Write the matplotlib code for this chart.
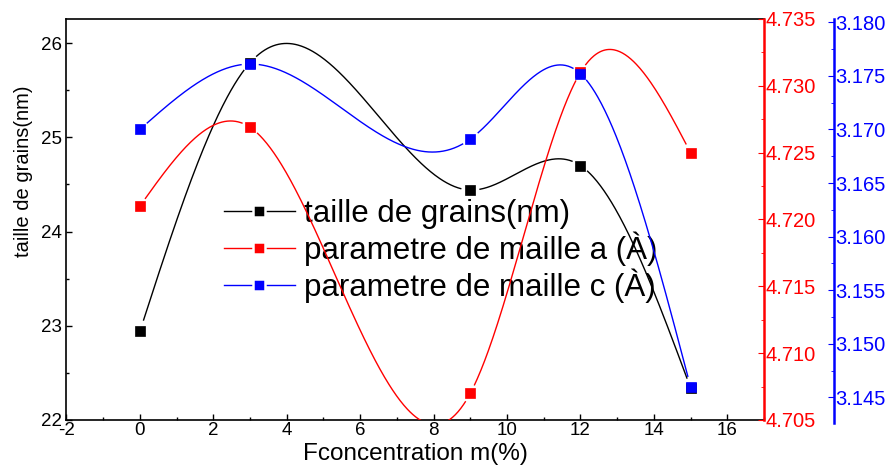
import numpy as np
import matplotlib.pyplot as plt
from matplotlib.lines import Line2D
from matplotlib.ticker import MultipleLocator

plt.rcParams['font.family'] = ['Liberation Sans', 'DejaVu Sans']
plt.rcParams['axes.unicode_minus'] = False

# F concentration (m%)
conc = [0, 3, 9, 12, 15]
# grain size (nm)
grain = [22.94, 25.79, 24.44, 24.70, 22.34]
# lattice parameter a (A)
param_a = [4.7210, 4.7269, 4.7070, 4.7310, 4.7250]
# lattice parameter c (A)
param_c = [3.1700, 3.1761, 3.1691, 3.1752, 3.1460]


def natural_spline(x, y, xs):
    x = np.asarray(x, float)
    y = np.asarray(y, float)
    n = len(x)
    h = np.diff(x)
    A = np.zeros((n, n))
    b = np.zeros(n)
    A[0, 0] = A[-1, -1] = 1
    for i in range(1, n - 1):
        A[i, i - 1] = h[i - 1]
        A[i, i] = 2 * (h[i - 1] + h[i])
        A[i, i + 1] = h[i]
        b[i] = 6 * ((y[i + 1] - y[i]) / h[i] - (y[i] - y[i - 1]) / h[i - 1])
    M = np.linalg.solve(A, b)
    k = np.clip(np.searchsorted(x, xs) - 1, 0, n - 2)
    t0 = x[k + 1] - xs
    t1 = xs - x[k]
    hk = h[k]
    return (M[k] * t0 ** 3 / (6 * hk) + M[k + 1] * t1 ** 3 / (6 * hk)
            + (y[k] / hk - M[k] * hk / 6) * t0
            + (y[k + 1] / hk - M[k + 1] * hk / 6) * t1)


def draw_series(ax, x, y, color, gap=9):
    xs = np.linspace(min(x), max(x), 600)
    ys = natural_spline(x, y, xs)
    # leave a small gap in the curve around each symbol
    pts = ax.transData.transform(np.column_stack([xs, ys]))
    mk = ax.transData.transform(np.column_stack([x, y]))
    near = np.zeros(len(xs), bool)
    for p in mk:
        near |= np.hypot(pts[:, 0] - p[0], pts[:, 1] - p[1]) < gap
    ys = np.where(near, np.nan, ys)
    ax.plot(xs, ys, color=color, lw=1.0)
    ax.plot(x, y, 's', color=color, ms=7.5, mec=color, mew=0.5, zorder=5)


fig = plt.figure(figsize=(8.9, 4.7), dpi=100)
ax = fig.add_axes([0.0747, 0.1064, 0.7837, 0.8532])
ax2 = ax.twinx()
ax3 = ax.twinx()

ax.set_xlim(-2, 17)
ax.set_ylim(22, 26.255)
ax2.set_ylim(4.705, 4.735)
ax3.set_ylim(3.1429, 3.1803)

draw_series(ax, conc, grain, 'black')
draw_series(ax2, conc, param_a, 'red')
draw_series(ax3, conc, param_c, 'blue')

# left / bottom axes
for s in ax.spines.values():
    s.set_linewidth(1.2)
ax.spines['right'].set_visible(False)
ax.xaxis.set_major_locator(MultipleLocator(2))
ax.xaxis.set_minor_locator(MultipleLocator(1))
ax.yaxis.set_major_locator(MultipleLocator(1))
ax.yaxis.set_minor_locator(MultipleLocator(0.5))
ax.tick_params(which='both', direction='in', top=False, right=False,
               labelsize=13.5, pad=3)
ax.tick_params(axis='x', pad=1.5)
ax.tick_params(which='major', length=4, width=1)
ax.tick_params(which='minor', length=2.5, width=1)
ax.set_xlabel('Fconcentration m(%)', fontsize=17.5, labelpad=3)
ax.set_ylabel('taille de grains(nm)', fontsize=14.5)
ax.yaxis.set_label_coords(-0.048, 0.62)

# red axis
for name in ['left', 'top', 'bottom']:
    ax2.spines[name].set_visible(False)
ax2.spines['right'].set_color('red')
ax2.spines['right'].set_linewidth(1.8)
ax2.yaxis.set_major_locator(MultipleLocator(0.005))
ax2.yaxis.set_minor_locator(MultipleLocator(0.0025))
ax2.tick_params(which='both', direction='in', colors='red', labelsize=14.5, pad=1)
ax2.tick_params(which='major', length=4)
ax2.tick_params(which='minor', length=2.5)
ax2.yaxis.set_major_formatter(plt.FormatStrFormatter('%.3f'))

# blue axis, offset to the right
for name in ['left', 'top', 'bottom']:
    ax3.spines[name].set_visible(False)
ax3.spines['right'].set_position(('axes', 1.1))
ax3.spines['right'].set_color('blue')
ax3.spines['right'].set_linewidth(1.8)
ax3.spines['right'].set_bounds(3.1426, 3.1803)
ax3.yaxis.set_major_locator(MultipleLocator(0.005))
ax3.yaxis.set_minor_locator(MultipleLocator(0.0025))
ax3.tick_params(which='both', direction='in', colors='blue', labelsize=14.5, pad=1)
ax3.tick_params(which='major', length=4)
ax3.tick_params(which='minor', length=2.5)
ax3.yaxis.set_major_formatter(plt.FormatStrFormatter('%.3f'))

handles = [
    Line2D([], [], color=c, lw=1.0, marker='s', ms=8.5, mfc=c,
           mec='white', mew=1.8)
    for c in ['black', 'red', 'blue']
]
labels = ['taille de grains(nm)', 'parametre de maille a (\u00c0)',
          'parametre de maille c (\u00c0)']
ax.legend(handles, labels, loc='upper left', bbox_to_anchor=(0.252, 0.576),
          bbox_transform=fig.transFigure, frameon=False, fontsize=22.5,
          handlelength=2.25, handletextpad=0.3, labelspacing=0.07,
          borderpad=0, borderaxespad=0)

fig.savefig('out.png', dpi=100)
